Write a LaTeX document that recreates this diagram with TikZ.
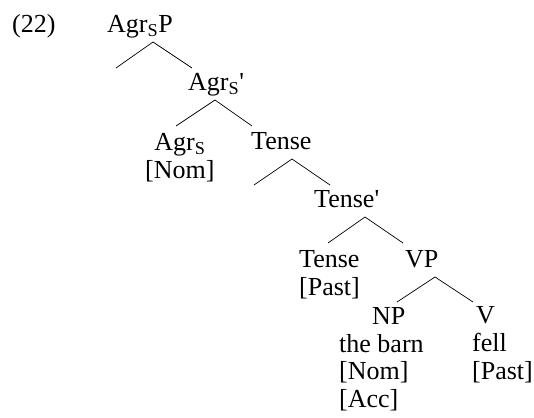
\documentclass[tikz,border=0pt]{standalone}
\usepackage{fontspec}
\setmainfont{Liberation Serif}
\newcommand{\agrs}{Agr\textsubscript{S}}
\tikzset{
    cat/.style={
        inner sep=0pt,
        anchor=base west,
        font=\fontsize{26}{27.5}\selectfont
    },
    featstack/.style={
        cat,
        align=left
    },
    branch/.style={
        draw=black,
        line width=0.7pt
    }
}

\begin{document}
\begin{tikzpicture}[x=1pt, y=-1pt]
\useasboundingbox (0,0) rectangle (534,417);

% Example number and top of tree
\node[cat] (exnum) at (12,33) {(22)};
\node[cat] (agrsp) at (107,33) {\agrs P};
\node[cat] (agrsbar) at (188,91) {\agrs\textquotesingle};

% Agr_S head and Tense (stacks sit on their last line)
\node[cat, align=center] (agrs) at (145,178) {\agrs\\{[Nom]}};
\node[cat] (tensep) at (251,149) {Tense};
\node[cat] (tensebar) at (314,207) {Tense\textquotesingle};

% Tense head and VP
\node[featstack] (tense) at (299,295) {Tense\\{[Past]}};
\node[cat] (vp) at (405,267) {VP};

% NP and V
\node[cat] (np) at (372,324) {NP};
\node[featstack] (barn) at (339,407) {the barn\\{[Nom]}\\{[Acc]}};
\node[cat] (v) at (476,323) {V};
\node[featstack] (fell) at (472,379) {fell\\{[Past]}};

% Branch points
\coordinate (agrsp-fork) at (153,42);
\coordinate (spec-agrsp) at (116,68);
\coordinate (agrsbar-top) at (192,68);
\coordinate (agrsbar-fork) at (215,100);
\coordinate (agrs-top) at (176,126);
\coordinate (tensep-top) at (252,126);
\coordinate (tensep-fork) at (292,159);
\coordinate (spec-tensep) at (254,185);
\coordinate (tensebar-top) at (330,185);
\coordinate (tensebar-fork) at (365,217);
\coordinate (tense-top) at (328,243);
\coordinate (vp-top) at (403,243);
\coordinate (vp-fork) at (435,277);
\coordinate (np-top) at (397,302);
\coordinate (v-top) at (473,302);

% Branches
\draw[branch] (spec-agrsp) -- (agrsp-fork) -- (agrsbar-top);
\draw[branch] (agrs-top) -- (agrsbar-fork) -- (tensep-top);
\draw[branch] (spec-tensep) -- (tensep-fork) -- (tensebar-top);
\draw[branch] (tense-top) -- (tensebar-fork) -- (vp-top);
\draw[branch] (np-top) -- (vp-fork) -- (v-top);

\end{tikzpicture}
\end{document}
